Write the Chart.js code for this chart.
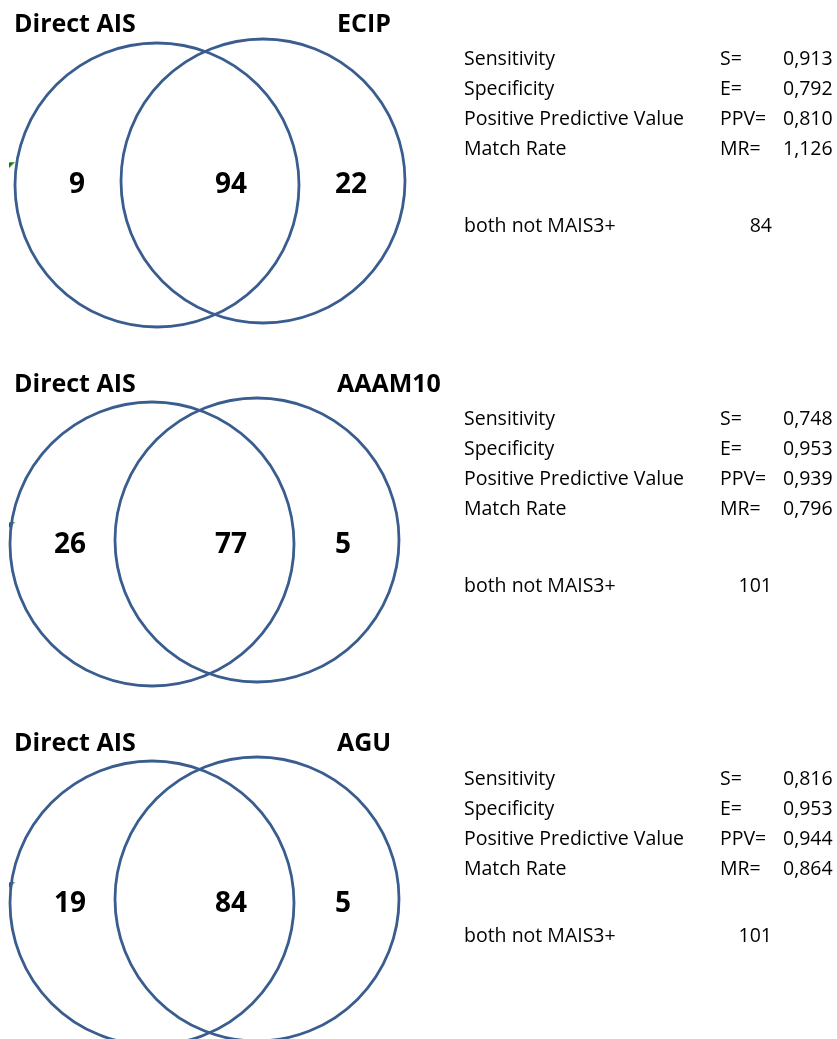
<!DOCTYPE html>
<html>
<head>
<meta charset="utf-8">
<script src="https://cdn.jsdelivr.net/npm/chart.js@4.4.1/dist/chart.umd.min.js"></script>
<style>
  html, body { margin: 0; padding: 0; background: #fff; }
  #wrap { width: 837px; height: 1039px; position: relative; }
</style>
</head>
<body>
<div id="wrap"><canvas id="vennChart"></canvas></div>
<script>
// Venn data: Direct AIS compared with three other codings
const baseLabel = 'Direct AIS';
const compareLabels = ['ECIP', 'AAAM10', 'AGU'];
const onlyBase = [9, 26, 19];
const overlap = [94, 77, 84];
const onlyCompare = [22, 5, 5];
const bothNot = [84, 101, 101];

// stats table
const statNames = ['Sensitivity', 'Specificity', 'Positive Predictive Value', 'Match Rate'];
const statSymbols = ['S=', 'E=', 'PPV=', 'MR='];
const sensitivity = [0.913, 0.748, 0.816];
const specificity = [0.792, 0.953, 0.953];
const ppv = [0.810, 0.939, 0.944];
const matchRate = [1.126, 0.796, 0.864];

document.addEventListener('DOMContentLoaded', function() {
  // layout (pixels, the scales map 1:1 onto the canvas)
  const W = 837, H = 1039;
  const R = 142;
  const sectionTop = [0, 360, 720];
  const circleLeft = [[157, 185], [152, 184], [152, 183]];
  const circleRight = [[263, 181], [257, 180], [257, 179]];
  const countX = [[77, 231, 351], [70, 231, 343], [70, 231, 343]];
  const countBase = [193, 193, 192];
  const titleBase = [32, 32, 31];
  const bothNotBase = [232, 232, 222];
  const lineColor = '#3A5D8F';

  const fmt = v => v.toFixed(3).replace('.', ',');

  // circles, two per section
  const circles = [];
  sectionTop.forEach((top, i) => {
    circles.push({ x: circleLeft[i][0], y: top + circleLeft[i][1], r: R });
    circles.push({ x: circleRight[i][0], y: top + circleRight[i][1], r: R });
  });

  // little green marker at the left edge
  const marker = document.createElement('canvas');
  marker.width = 8; marker.height = 8;
  const mctx = marker.getContext('2d');
  mctx.fillStyle = '#0A7A0A';
  mctx.beginPath();
  mctx.moveTo(0, 1); mctx.lineTo(7, 0); mctx.lineTo(0, 7);
  mctx.closePath();
  mctx.fill();
  const markers = sectionTop.map(top => ({ x: 12.5, y: top + 165.5 }));

  const textPlugin = {
    id: 'vennText',
    afterDatasetsDraw(chart) {
      const { ctx, scales: { x, y } } = chart;
      const px = v => x.getPixelForValue(v);
      const py = v => y.getPixelForValue(v);
      ctx.save();
      ctx.fillStyle = '#000';
      ctx.textBaseline = 'alphabetic';

      compareLabels.forEach((name, i) => {
        const top = sectionTop[i];

        // titles
        ctx.font = 'bold 25px "Open Sans"';
        ctx.textAlign = 'left';
        ctx.fillText(baseLabel, px(14), py(top + titleBase[i]));
        ctx.fillText(name, px(337), py(top + titleBase[i]));

        // counts in the regions
        ctx.font = 'bold 28px "Open Sans"';
        ctx.textAlign = 'center';
        const counts = [onlyBase[i], overlap[i], onlyCompare[i]];
        counts.forEach((c, k) => {
          ctx.fillText(String(c), px(countX[i][k]), py(top + countBase[i]));
        });

        // stats block
        ctx.font = '19.5px "Open Sans"';
        const vals = [sensitivity[i], specificity[i], ppv[i], matchRate[i]];
        statNames.forEach((s, k) => {
          const yy = py(top + 65 + k * 30);
          ctx.textAlign = 'left';
          ctx.fillText(s, px(464), yy);
          ctx.fillText(statSymbols[k], px(720), yy);
          ctx.fillText(fmt(vals[k]), px(783), yy);
        });
        ctx.textAlign = 'left';
        ctx.fillText('both not MAIS3+', px(464), py(top + bothNotBase[i]));
        ctx.textAlign = 'right';
        ctx.fillText(String(bothNot[i]), px(772), py(top + bothNotBase[i]));
      });
      ctx.restore();
    }
  };

  const ctx = document.getElementById('vennChart').getContext('2d');
  new Chart(ctx, {
    type: 'bubble',
    data: {
      datasets: [{
        data: circles,
        backgroundColor: 'rgba(0,0,0,0)',
        borderColor: lineColor,
        borderWidth: 2.8,
        hoverRadius: 0,
        clip: false
      }, {
        type: 'scatter',
        data: markers,
        pointStyle: marker,
        pointRadius: 4,
        clip: false
      }]
    },
    options: {
      responsive: true,
      maintainAspectRatio: false,
      animation: false,
      events: [],
      layout: { padding: 0, autoPadding: false },
      scales: {
        x: { type: 'linear', min: 0, max: W, display: false },
        y: { type: 'linear', min: 0, max: H, reverse: true, display: false }
      },
      plugins: {
        legend: { display: false },
        tooltip: { enabled: false }
      }
    },
    plugins: [textPlugin]
  });
});
</script>
</body>
</html>
